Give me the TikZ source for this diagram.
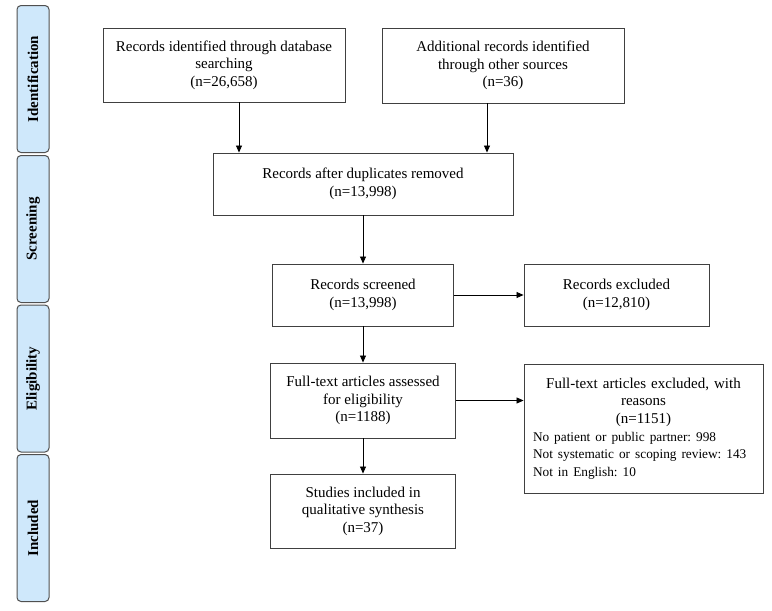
\documentclass[tikz,border=0pt]{standalone}
\usepackage{fontspec}
\setmainfont{Liberation Serif}
\usetikzlibrary{arrows.meta}
\definecolor{stagefill}{HTML}{CFE8FB}
\definecolor{stageline}{HTML}{505050}
\definecolor{boxline}{HTML}{404040}
\frenchspacing

\begin{document}
\begin{tikzpicture}[x=1pt,y=-1pt,
	box/.style={draw=boxline,line width=0.9pt,align=center,inner sep=0pt,
		font=\fontsize{15}{17.6}\selectfont},
	stage/.style={draw=stageline,fill=stagefill,line width=1pt,rounded corners=4pt,
		minimum width=32pt,minimum height=147pt,inner sep=0pt},
	stagetext/.style={rotate=90,font=\fontsize{15}{17.6}\selectfont\bfseries},
	arr/.style={line width=0.8pt,-{Triangle[length=7pt,width=6pt]}}]

	\useasboundingbox (0,0) rectangle (772,611);

	% stages on the left
	\node[stage] (ident) at (33,79) {};
	\node[stagetext] at (ident) {Identification};
	\node[stage] (screen) at (33,229) {};
	\node[stagetext] at (screen) {Screening};
	\node[stage] (elig) at (33,378.5) {};
	\node[stagetext] at (elig) {Eligibility};
	\node[stage] (incl) at (33,528) {};
	\node[stagetext] at (incl) {Included};

	% boxes
	\node[box,minimum width=242pt,minimum height=74pt] (dbs) at (224,65)
		{Records identified through database\\searching\\(n=26,658)};
	\node[box,minimum width=242pt,minimum height=75pt] (other) at (503,65.5)
		{Additional records identified\\through other sources\\(n=36)};
	\node[box,minimum width=300pt,minimum height=62pt] (dup) at (363,184)
		{Records after duplicates removed\\(n=13,998)};
	\node[box,minimum width=181pt,minimum height=62pt] (screened) at (363,295)
		{Records screened\\(n=13,998)};
	\node[box,minimum width=185pt,minimum height=62pt] (excl) at (616.5,295)
		{Records excluded\\(n=12,810)};
	\node[box,minimum width=185pt,minimum height=75pt] (full) at (363,400.5)
		{Full-text articles assessed\\for eligibility\\(n=1188)};
	\node[box,minimum width=239pt,minimum height=129pt,text width=221pt,align=left] (exclft) at (643.5,428.5)
		{\centering Full-text articles excluded, with\\reasons\\(n=1151)\par
		\raggedright\fontsize{13.3}{17.6}\selectfont No patient or public partner: 998\\
		Not systematic or scoping review: 143\\
		Not in English: 10};
	\node[box,minimum width=185pt,minimum height=74pt] (studies) at (363,511)
		{Studies included in\\qualitative synthesis\\(n=37)};

	% arrows
	\draw[arr] ([xshift=15pt]dbs.south) -- ([xshift=15pt]dbs.south |- dup.north);
	\draw[arr] ([xshift=-16pt]other.south) -- ([xshift=-16pt]other.south |- dup.north);
	\draw[arr] (dup) -- (screened);
	\draw[arr] (screened) -- (excl);
	\draw[arr] (screened) -- (full);
	\draw[arr] (full.east) -- (full.east -| exclft.west);
	\draw[arr] (full) -- (studies);
\end{tikzpicture}
\end{document}
